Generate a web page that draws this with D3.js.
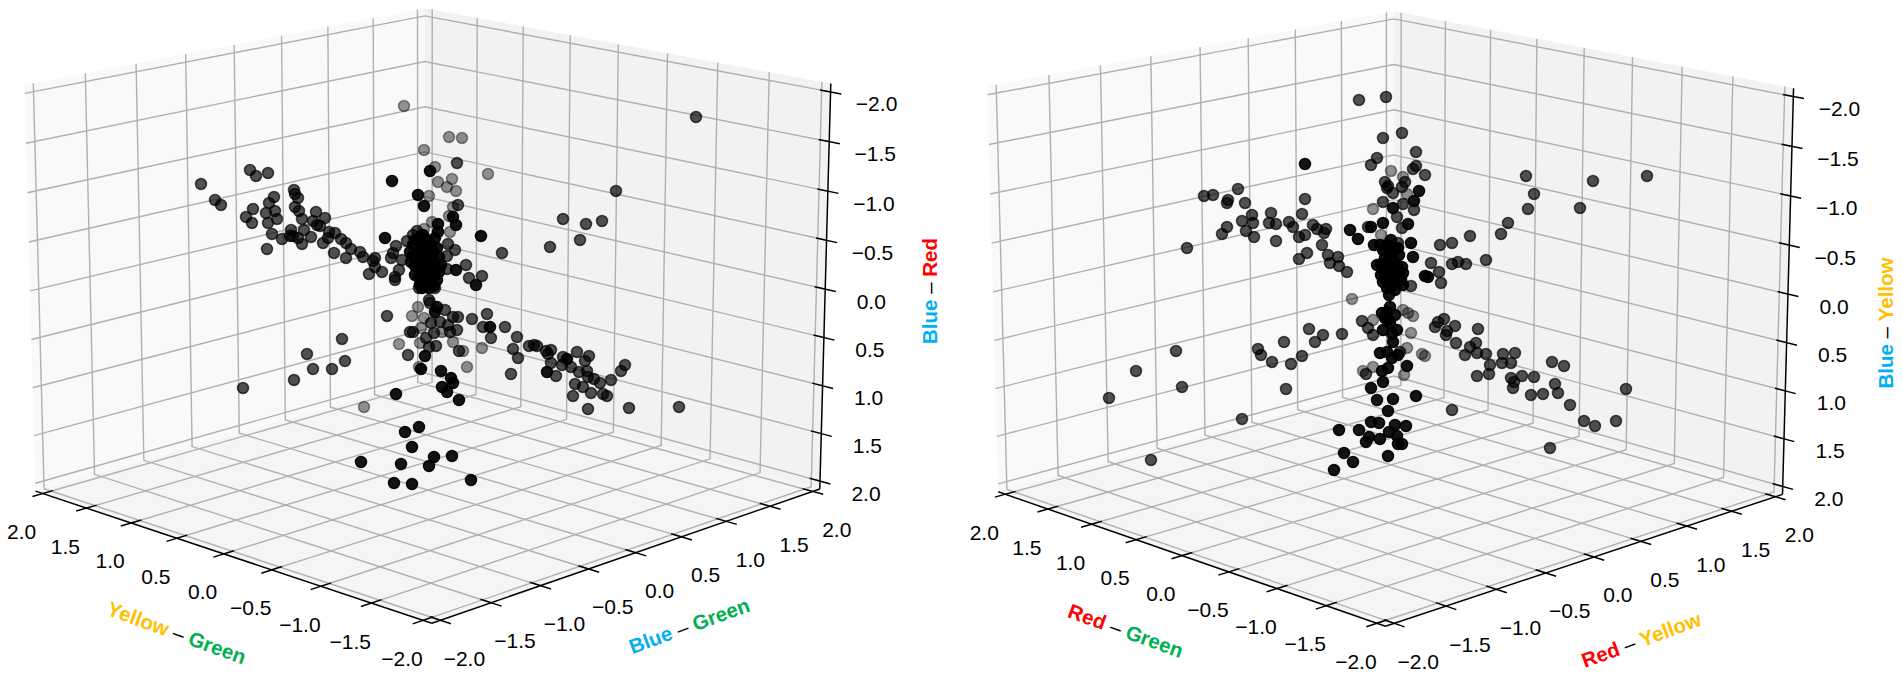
<!DOCTYPE html>
<html>
<head>
<meta charset="utf-8">
<script src="https://cdn.jsdelivr.net/npm/d3@7"></script>
<style>
  html, body { margin: 0; padding: 0; background: #fff; }
  svg { display: block; }
  text { font-family: "Liberation Sans", Arial, sans-serif; }
</style>
</head>
<body>
<svg id="chart" width="1902" height="684"></svg>
<script>
const tickValues = [-2, -1.5, -1, -0.5, 0, 0.5, 1, 1.5, 2];

// left plot : [across the view, Blue - Red], grouped by how far back the point sits
const leftFar = [[-.21,-1.94],[-.01,-1.50],[.10,-1.33],[.24,-1.63],[.37,-1.62],[.27,-1.21],[.22,-1.13],[.31,-1.09],[.63,-1.26],[.04,-1.04],[.13,-1.18],[.28,-.93],[.24,-.84],[.07,-.78],[.25,-.68],[-.01,-.71],[-.61,1.07],[-.26,.44],[-.13,.16],[-.05,.43],[-.06,.67],[-.04,.28],[-.07,.07],[-.01,.18],[.28,.42],[.17,.32],[.57,.48],[.38,.51],[.42,.67]];
const leftMid = [[-2.24,-1.16],[-2.10,-1.00],[-2.04,-.95],[-1.75,-1.30],[-1.69,-1.24],[-1.57,-1.27],[-1.51,-1.03],[-1.56,-.97],[-1.31,-1.10],[-1.30,-1.06],[-1.27,-1.02],[-1.30,-.93],[-1.26,-.89],[-1.72,-.91],[-1.79,-.83],[-1.73,-.77],[-1.59,-.87],[-1.50,-.89],[-1.48,-.81],[-1.57,-.77],[-1.23,-.81],[-1.09,-.88],[-1.12,-.79],[-1.00,-.82],[-1.34,-.70],[-1.21,-.70],[-1.53,-.66],[-1.43,-.61],[-1.35,-.64],[-1.32,-.64],[-1.27,-.62],[-1.23,-.56],[-1.14,-.63],[-1.08,-.75],[-1.05,-.74],[-.96,-.68],[-.90,-.67],[-1.02,-.57],[-.97,-.62],[-1.58,-.51],[-.84,-.61],[-.79,-.57],[-.74,-.51],[-.91,-.47],[-.79,-.42],[-.65,-.48],[-.62,-.43],[-.52,-.39],[-.50,-.42],[-.56,-.26],[-.43,-.28],[-.50,-.33],[-.30,-.23],[-.26,-.30],[-.29,-.54],[-.32,-.47],[-.34,-.42],[-.23,-.40],[.32,-1.37],[.33,-.95],[.77,-.47],[2.71,-1.83],[1.91,-1.09],[1.38,-.81],[1.61,-.76],[1.77,-.79],[1.25,-.53],[1.55,-.60],[.23,-.56],[.30,-.50],[.22,-.44],[.41,-.35],[.22,-.31],[.44,-.22],[.57,-.24],[-.08,-.69],[-.12,-.65],[-.18,-.59],[-1.82,.88],[-1.31,.80],[-1.18,.54],[-1.12,.69],[-.93,.69],[-.83,.39],[-.80,.61],[-.38,.16],[-.17,.55],[-.15,.32],[-.12,.32],[.04,.47],[.11,.46],[.01,.38],[.06,.23],[.15,.22],[.23,.25],[.33,.17],[.25,.32],[.32,.30],[.20,.10],[.28,.17],[.05,.03],[.09,.33],[.34,.51],[.62,.14],[.47,.19],[.58,.27],[.80,.27],[.66,.38],[.92,.37],[.88,.49],[.93,.58],[.86,.74],[1.04,.46],[1.09,.45],[1.12,.46],[1.21,.51],[1.26,.50],[1.23,.54],[1.26,.63],[1.31,.76],[1.37,.65],[1.38,.57],[1.46,.67],[1.52,.52],[1.64,.56],[1.60,.61],[1.54,.72],[1.62,.71],[1.63,.77],[1.69,.79],[1.75,.83],[1.86,.80],[1.50,.84],[1.58,.87],[1.66,.93],[1.48,.96],[1.78,.94],[1.82,.96],[2.00,.65],[1.96,.71],[1.63,1.09],[2.04,1.08],[2.54,1.07],[-.30,-.20],[-.06,-.12],[.10,-.12],[.04,0]];
const leftNear = [[-.33,-1.19],[.05,-1.29],[-.07,-1.05],[-.01,-.94],[-.40,-.62],[.56,-.64],[.28,-.83],[.31,-.75],[.13,-.76],[.13,-.68],[.31,-.30],[.51,-.15],[.65,.27],[1.22,.72],[1.42,.59],[.34,1.0],[-.29,.94],[0,.56],[-.04,.69],[.16,.71],[.26,.78],[.28,.83],[.17,.87],[.22,.92],[.10,.12],[.12,.07],[-.06,1.27],[-.20,1.32],[-.13,1.47],[.09,1.57],[.27,1.56],[.04,1.66],[-.24,1.64],[-.64,1.62],[-.31,1.83],[-.13,1.84],[.46,1.80],
  [-.15,-.48],[-.12,-.55],[-.10,-.60],[-.06,-.62],[-.02,-.65],[.02,-.60],[.06,-.55],[.10,-.62],[.12,-.52],[-.08,-.45],[-.04,-.50],[0,-.55],[.04,-.47],[.08,-.42],[-.14,-.38],[-.10,-.34],[-.06,-.40],[-.02,-.44],[.02,-.38],[.06,-.33],[.10,-.35],[-.06,-.30],[-.02,-.33],[.02,-.28],[.05,-.24],[.10,-.25],[.14,-.28],[-.10,-.25],[-.06,-.22],[-.02,-.25],[.02,-.18],[.06,-.17],[-.05,-.15],[.12,-.20],[-.03,-.12],[.04,-.12],[.09,-.14],[0,-.40],[-.01,-.48],[.03,-.52],[-.04,-.36],[.01,-.30],[.07,-.50],[-.12,-.44],[.16,-.35],[.14,-.43]];

// right plot : [across the view, Blue - Yellow]
const rightFar = [[-.43,-.01],[-.22,.20],[-.22,.67],[-.32,.71],[.09,.75],[.18,.16],[.13,.13],[.08,.10],[.16,.33],[.27,.54],[.30,.56],[.12,.48],[-.04,-1.29],[.08,-1.23],[.12,-1.06],[-.14,-.65],[-.22,-.91]];
const rightMid = [[-.36,-2.00],[-.09,-2.03],[-.12,-1.62],[-.18,-1.42],[-.24,-1.35],[-.10,-1.18],[-.08,-1.12],[-.02,-1.07],[-.07,-1.14],[-.12,-.98],[-1.57,-1.11],[-1.82,-1.05],[-1.91,-1.04],[-1.67,-1.00],[-1.68,-.97],[-1.50,-.97],[-.90,-1.01],[-.93,-.86],[-1.43,-.85],[-1.24,-.87],[-1.53,-.79],[-1.42,-.77],[-1.26,-.77],[-1.19,-.76],[-1.06,-.78],[-1.02,-.73],[-1.68,-.73],[-1.73,-.66],[-1.49,-.69],[-1.41,-.63],[-1.19,-.59],[-.82,-.75],[-.78,-.71],[-.69,-.71],[-.71,-.67],[-.96,-.63],[-.90,-.65],[-.73,-.55],[-.67,-.45],[-.57,-.43],[-.65,-.37],[-.56,-.34],[-.88,-.47],[-.96,-.41],[-.48,-.28],[-2.08,-.52],[-.27,-.73],[.07,-1.67],[.21,-1.48],[.21,-1.34],[.18,-1.31],[.30,-1.25],[.10,-1.18],[.07,-1.13],[.19,-.90],[.08,-.96],[.02,-.83],[.07,-.72],[.03,-.57],[.45,-.55],[.57,-.57],[.75,-.64],[1.06,-.66],[1.13,-.77],[1.33,-.91],[1.39,-1.06],[1.31,-1.24],[1.85,-.92],[1.98,-1.19],[2.52,-1.24],[.91,-.40],[.71,-.36],[.63,-.38],[.57,-.36],[.36,-.37],[.44,-.28],[.46,-.17],[.16,-.14],
  [-2.86,.98],[-2.59,.71],[-2.19,.51],[-2.13,.87],[-2.44,1.60],[-1.53,1.19],[-1.37,.49],[-1.34,.55],[-1.23,.62],[-1.11,.42],[-1.04,.64],[-.93,.56],[-1.09,.89],[-.86,.29],[-.80,.42],[-.72,.35],[-.53,.34],[-.33,.21],[-.27,.28],[-.22,.35],[-.29,.74],[.40,.27],[.43,.22],[.49,.19],[.52,.31],[.51,.35],[.60,.26],[.61,.43],[.83,.29],[.75,.47],[.81,.43],[.70,.55],[.82,.53],[.91,.54],[.95,.65],[.94,.74],[.82,.76],[1.08,.54],[1.20,.53],[1.07,.63],[1.16,.78],[1.18,.88],[1.27,.76],[1.39,.77],[1.36,.95],[1.48,.94],[1.57,.62],[1.69,.66],[1.60,.84],[1.63,.93],[1.75,1.05],[1.89,1.21],[2.00,1.26],[2.21,1.21],[1.55,1.48],[.57,1.10],[.05,.52],[1.16,.63],[1.19,.82],[2.31,.89]];
const rightNear = [[-.90,-1.36],[-.37,-.61],[-.45,-.70],[-.24,-.73],[-.21,-.55],[-.12,-.77],[-.18,-.35],[.24,-1.09],[.19,-.99],[-.02,-.92],[.13,-.76],[.16,-.57],[.18,-.43],[.30,-.24],[.33,-.23],[.08,-.27],[-.61,1.70],[-.51,1.53],[-.42,1.62],[-.56,1.30],[-.36,1.30],[-.26,1.37],[-.29,1.42],[-.15,1.39],[-.24,1.22],[-.16,1.23],[0,1.25],[-.06,1.32],[.02,1.36],[.03,1.44],[.07,1.44],[-.07,1.56],[.11,1.26],[-.07,1.11],[-.02,.99],[.21,.96],[-.18,1.0],[-.24,.88],[-.12,.82],[.12,.66],[-.13,.71],
  [-.15,-.55],[-.12,-.50],[-.08,-.55],[-.04,-.60],[0,-.50],[.04,-.45],[-.10,-.42],[-.06,-.46],[-.02,-.40],[.02,-.35],[-.14,-.36],[-.12,-.30],[-.08,-.33],[-.04,-.28],[0,-.30],[.04,-.25],[.07,-.33],[-.14,-.25],[-.10,-.22],[-.06,-.20],[-.02,-.22],[.02,-.18],[.06,-.20],[-.08,-.12],[-.04,-.13],[0,-.10],[-.02,-.38],[.03,-.52],[-.05,-.52],[-.09,-.27],[-.12,-.18],[.08,-.15],[-.06,-.05],
  [-.08,.12],[-.13,.13],[-.05,.07],[0,.15],[-.12,.30],[-.05,.23],[.02,.30],[-.15,.53],[-.08,.52],[-.03,.58],[.03,.55],[-.07,.68],[-.02,.42],[-.07,.20],[-.10,.18],[-.03,.34]];

const leftXLabel = ["Yellow", "Green"];
const leftYLabel = ["Blue", "Green"];
const leftZLabel = ["Blue", "Red"];
const rightXLabel = ["Red", "Green"];
const rightYLabel = ["Red", "Yellow"];
const rightZLabel = ["Blue", "Yellow"];

const labelColors = { Yellow: "#FFC000", Green: "#00B050", Blue: "#00B0F0", Red: "#FF0000" };
const depthOpacity = d3.scaleOrdinal(["far", "mid", "near"], [0.42, 0.68, 0.92]);

const paneLimit = 2 + 1 / 12;
const tickLength = 0.1;

const svg = d3.select("#chart");

function drawPanel(panel) {
    const g = svg.append("g");

    // camera, same idea as a matplotlib 3d axes
    const elev = panel.elev * Math.PI / 180;
    const turn = panel.turn * Math.PI / 180;
    const dist = 8;
    const boxA = d3.scaleLinear().domain([paneLimit, -paneLimit]).range([-0.5714, 0.5714]);
    const boxB = d3.scaleLinear().domain([-paneLimit, paneLimit]).range([-0.5714, 0.5714]);
    const boxC = d3.scaleLinear().domain([paneLimit, -paneLimit]).range([-0.4286, 0.4286]);
    const screenX = d3.scaleLinear().domain([-1, 1]).range([panel.cx - panel.sx, panel.cx + panel.sx]);
    const screenY = d3.scaleLinear().domain([-1, 1]).range([panel.cy + panel.sy, panel.cy - panel.sy]);

    function project(x, y, z) {
        const a = boxA(x), b = boxB(y), c = boxC(z);
        const across = a * Math.cos(turn) + b * Math.sin(turn);
        const toward = a * Math.sin(turn) - b * Math.cos(turn);
        const up = c * Math.cos(elev) - toward * Math.sin(elev);
        const depth = toward * Math.cos(elev) + c * Math.sin(elev);
        const f = dist / (dist - depth);
        return [screenX(across * f), screenY(up * f)];
    }

    const line = d3.line();
    const L = paneLimit;

    // panes
    const panes = [
        { fill: "#f9f9f9", pts: [[L, -L, -L], [L, L, -L], [L, L, L], [L, -L, L]] },
        { fill: "#f2f2f2", pts: [[L, L, -L], [-L, L, -L], [-L, L, L], [L, L, L]] },
        { fill: "#f5f5f5", pts: [[L, -L, L], [L, L, L], [-L, L, L], [-L, -L, L]] }
    ];
    g.selectAll("path.pane").data(panes).join("path")
        .attr("class", "pane")
        .attr("fill", d => d.fill)
        .attr("d", d => line(d.pts.map(p => project(...p))) + "Z");

    // grid
    const gridLines = [];
    tickValues.forEach(t => {
        gridLines.push([[t, L, -L], [t, L, L], [t, -L, L]]);   // x
        gridLines.push([[L, t, -L], [L, t, L], [-L, t, L]]);   // y
        gridLines.push([[L, -L, t], [L, L, t], [-L, L, t]]);   // z
    });
    g.selectAll("path.grid").data(gridLines).join("path")
        .attr("class", "grid")
        .attr("fill", "none")
        .attr("stroke", "#b0b0b0")
        .attr("stroke-width", 1.4)
        .attr("d", d => line(d.map(p => project(...p))));

    // axis lines
    const axisLines = [
        [[L, -L, L], [-L, -L, L]],
        [[-L, -L, L], [-L, L, L]],
        [[-L, L, L], [-L, L, -L]]
    ];
    g.selectAll("path.axis").data(axisLines).join("path")
        .attr("class", "axis")
        .attr("fill", "none")
        .attr("stroke", "#000")
        .attr("stroke-width", 1.5)
        .attr("d", d => line(d.map(p => project(...p))));

    // tick marks + labels
    const fmt = d => d3.format(".1f")(d).replace("-", "\u2212");
    const ticks = [];
    tickValues.forEach(t => {
        ticks.push({ t, dx: -21, dy: 38, a: [t, -L - tickLength, L], b: [t, -L + tickLength, L] });
        ticks.push({ t, dx: 24, dy: 38, a: [-L - tickLength, t, L], b: [-L + tickLength, t, L] });
        ticks.push({ t, dx: 46, dy: 12, a: [-L - tickLength, L, t], b: [-L + tickLength, L, t] });
    });
    g.selectAll("path.tick").data(ticks).join("path")
        .attr("class", "tick")
        .attr("stroke", "#000")
        .attr("stroke-width", 1.5)
        .attr("d", d => line([project(...d.a), project(...d.b)]));
    g.selectAll("text.ticklabel").data(ticks).join("text")
        .attr("class", "ticklabel")
        .attr("text-anchor", "middle")
        .attr("dominant-baseline", "central")
        .attr("font-size", 21)
        .attr("fill", "#000")
        .attr("x", d => (project(...d.a)[0] + project(...d.b)[0]) / 2 + d.dx)
        .attr("y", d => (project(...d.a)[1] + project(...d.b)[1]) / 2 + d.dy)
        .text(d => fmt(d.t));

    // points, far ones first
    const readX = d3.scaleLinear().domain([-4, 4]).range([panel.readCx - 400, panel.readCx + 400]);
    const readY = d3.scaleLinear().domain([-2, 2]).range([100, 500]);
    ["far", "mid", "near"].forEach(depth => {
        g.append("g").selectAll("circle").data(panel.points[depth]).join("circle")
            .attr("cx", d => readX(d[0]))
            .attr("cy", d => readY(d[1]))
            .attr("r", 5.5)
            .attr("fill", "#000")
            .attr("stroke", "#000")
            .attr("stroke-width", 1.5)
            .attr("fill-opacity", depthOpacity(depth))
            .attr("stroke-opacity", depthOpacity(depth));
    });

    // colored axis names
    const names = g.selectAll("text.name").data(panel.names).join("text")
        .attr("class", "name")
        .attr("text-anchor", "middle")
        .attr("dominant-baseline", "central")
        .attr("font-size", 20.5)
        .attr("transform", d => `translate(${d.x},${d.y}) rotate(${d.rotate})`);
    names.append("tspan").attr("font-weight", "bold").attr("fill", d => labelColors[d.parts[0]]).text(d => d.parts[0]);
    names.append("tspan").attr("fill", "#000").text(" \u2013 ");
    names.append("tspan").attr("font-weight", "bold").attr("fill", d => labelColors[d.parts[1]]).text(d => d.parts[1]);
}

drawPanel({
    cx: 428, cy: 290, sx: 492, sy: 490, elev: 15, turn: 44.5, readCx: 425,
    points: { far: leftFar, mid: leftMid, near: leftNear },
    names: [
        { parts: leftXLabel, x: 177, y: 632, rotate: 20 },
        { parts: leftYLabel, x: 689, y: 625, rotate: -20 },
        { parts: leftZLabel, x: 929, y: 291, rotate: -90 }
    ]
});

drawPanel({
    cx: 1390, cy: 293, sx: 492, sy: 490, elev: 15, turn: 45.6, readCx: 1395,
    points: { far: rightFar, mid: rightMid, near: rightNear },
    names: [
        { parts: rightXLabel, x: 1126, y: 630, rotate: 20 },
        { parts: rightYLabel, x: 1641, y: 639, rotate: -20 },
        { parts: rightZLabel, x: 1885, y: 323, rotate: -90 }
    ]
});
</script>
</body>
</html>
